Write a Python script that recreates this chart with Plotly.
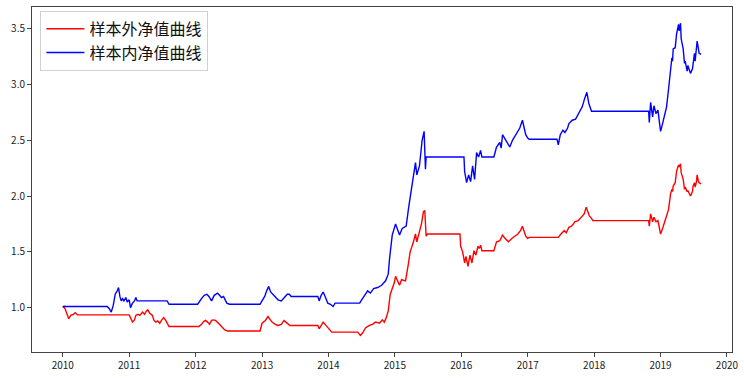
import pandas as pd
import plotly.graph_objects as go

# ---- data (decimal year, net value) ----
t_in = [2010.00, 2010.67, 2010.70, 2010.73, 2010.76, 2010.79, 2010.82, 2010.84, 2010.86, 2010.88,
        2010.90, 2010.92, 2010.95, 2010.97, 2011.00, 2011.02, 2011.05, 2011.08, 2011.10, 2011.12,
        2011.57, 2011.60, 2012.03, 2012.06, 2012.10, 2012.13, 2012.17, 2012.20, 2012.24, 2012.28,
        2012.33, 2012.36, 2012.39, 2012.42, 2012.44, 2012.47, 2012.51, 2012.97, 2013.00, 2013.04,
        2013.07, 2013.10, 2013.13, 2013.16, 2013.20, 2013.24, 2013.29, 2013.33, 2013.38, 2013.41,
        2013.44, 2013.84, 2013.86, 2013.89, 2013.92, 2013.95, 2013.99, 2014.03, 2014.07, 2014.10,
        2014.47, 2014.50, 2014.55, 2014.59, 2014.63, 2014.68, 2014.74, 2014.80, 2014.86, 2014.90,
        2014.92, 2014.96, 2015.01, 2015.04, 2015.07, 2015.11, 2015.17, 2015.21, 2015.26, 2015.31,
        2015.33, 2015.37, 2015.41, 2015.44, 2015.46, 2015.47, 2016.04, 2016.05, 2016.08, 2016.11,
        2016.14, 2016.17, 2016.20, 2016.23, 2016.26, 2016.29, 2016.31, 2016.49, 2016.53, 2016.58,
        2016.60, 2016.62, 2016.68, 2016.73, 2016.77, 2016.82, 2016.88, 2016.92, 2016.97, 2017.00,
        2017.02, 2017.44, 2017.46, 2017.49, 2017.53, 2017.56, 2017.60, 2017.62, 2017.67, 2017.72,
        2017.77, 2017.82, 2017.86, 2017.89, 2017.92, 2017.94, 2017.96, 2018.82, 2018.83, 2018.85,
        2018.88, 2018.90, 2018.93, 2018.96, 2018.98, 2019.00, 2019.03, 2019.06, 2019.09, 2019.12,
        2019.15, 2019.17, 2019.18, 2019.19, 2019.22, 2019.24, 2019.27, 2019.28, 2019.30, 2019.31,
        2019.34, 2019.36, 2019.37, 2019.40, 2019.41, 2019.45, 2019.48, 2019.49, 2019.51, 2019.52,
        2019.54, 2019.55, 2019.57, 2019.58, 2019.61]
nav_in = [1.01, 1.01, 0.99, 0.96, 1.02, 1.12, 1.15, 1.18, 1.10, 1.06,
          1.08, 1.06, 1.09, 1.05, 1.07, 1.00, 1.04, 1.06, 1.09, 1.06,
          1.06, 1.03, 1.03, 1.06, 1.09, 1.11, 1.12, 1.10, 1.06, 1.11,
          1.13, 1.11, 1.09, 1.10, 1.07, 1.04, 1.03, 1.03, 1.06, 1.10,
          1.15, 1.19, 1.14, 1.12, 1.09, 1.07, 1.06, 1.09, 1.12, 1.12,
          1.10, 1.10, 1.06, 1.11, 1.14, 1.10, 1.04, 1.03, 1.01, 1.04,
          1.04, 1.07, 1.12, 1.15, 1.13, 1.17, 1.18, 1.20, 1.24, 1.30,
          1.44, 1.65, 1.75, 1.70, 1.65, 1.71, 1.73, 1.91, 2.09, 2.30,
          2.19, 2.27, 2.50, 2.58, 2.24, 2.35, 2.35, 2.22, 2.12, 2.19,
          2.13, 2.27, 2.15, 2.39, 2.35, 2.41, 2.35, 2.35, 2.44, 2.48,
          2.43, 2.55, 2.49, 2.44, 2.50, 2.55, 2.61, 2.68, 2.55, 2.52,
          2.51, 2.51, 2.46, 2.55, 2.59, 2.57, 2.61, 2.65, 2.68, 2.69,
          2.74, 2.80, 2.88, 2.93, 2.83, 2.80, 2.76, 2.76, 2.66, 2.84,
          2.71, 2.81, 2.74, 2.77, 2.64, 2.58, 2.65, 2.74, 2.80, 2.96,
          3.17, 3.24, 3.21, 3.32, 3.33, 3.45, 3.54, 3.48, 3.55, 3.41,
          3.32, 3.19, 3.21, 3.12, 3.17, 3.10, 3.14, 3.21, 3.28, 3.21,
          3.30, 3.39, 3.32, 3.28, 3.27]

t_out = [2010.00, 2010.02, 2010.04, 2010.07, 2010.09, 2010.12, 2010.16, 2010.19, 2010.22, 2011.00,
         2011.05, 2011.08, 2011.10, 2011.13, 2011.16, 2011.20, 2011.23, 2011.26, 2011.28, 2011.31,
         2011.35, 2011.37, 2011.40, 2011.43, 2011.46, 2011.49, 2011.52, 2011.55, 2011.58, 2011.60,
         2012.05, 2012.09, 2012.12, 2012.15, 2012.18, 2012.21, 2012.24, 2012.27, 2012.30, 2012.33,
         2012.36, 2012.39, 2012.44, 2012.48, 2012.97, 2013.00, 2013.05, 2013.09, 2013.12, 2013.15,
         2013.20, 2013.24, 2013.29, 2013.33, 2013.36, 2013.42, 2013.84, 2013.86, 2013.92, 2013.96,
         2014.02, 2014.05, 2014.44, 2014.48, 2014.51, 2014.56, 2014.62, 2014.66, 2014.71, 2014.77,
         2014.81, 2014.84, 2014.87, 2014.90, 2014.93, 2014.99, 2015.01, 2015.04, 2015.07, 2015.10,
         2015.16, 2015.20, 2015.23, 2015.28, 2015.31, 2015.33, 2015.37, 2015.40, 2015.43, 2015.45,
         2015.47, 2015.49, 2015.98, 2015.99, 2016.02, 2016.05, 2016.07, 2016.10, 2016.13, 2016.16,
         2016.19, 2016.22, 2016.25, 2016.27, 2016.29, 2016.31, 2016.49, 2016.53, 2016.58, 2016.62,
         2016.66, 2016.71, 2016.76, 2016.80, 2016.85, 2016.89, 2016.92, 2016.97, 2017.00, 2017.02,
         2017.46, 2017.50, 2017.55, 2017.58, 2017.62, 2017.66, 2017.71, 2017.76, 2017.80, 2017.85,
         2017.88, 2017.91, 2017.93, 2017.96, 2017.98, 2018.82, 2018.83, 2018.85, 2018.88, 2018.90,
         2018.93, 2018.96, 2018.98, 2019.00, 2019.03, 2019.06, 2019.09, 2019.12, 2019.15, 2019.17,
         2019.18, 2019.19, 2019.22, 2019.24, 2019.27, 2019.28, 2019.30, 2019.31, 2019.34, 2019.36,
         2019.37, 2019.40, 2019.41, 2019.45, 2019.48, 2019.49, 2019.51, 2019.52, 2019.54, 2019.55,
         2019.57, 2019.58, 2019.61]
nav_out = [1.00, 1.01, 0.98, 0.94, 0.90, 0.93, 0.94, 0.955, 0.935, 0.935,
           0.87, 0.89, 0.93, 0.94, 0.93, 0.96, 0.94, 0.97, 0.98, 0.95,
           0.93, 0.89, 0.87, 0.88, 0.86, 0.89, 0.91, 0.885, 0.85, 0.83,
           0.83, 0.85, 0.875, 0.885, 0.87, 0.85, 0.885, 0.89, 0.885, 0.87,
           0.85, 0.83, 0.80, 0.79, 0.79, 0.86, 0.885, 0.92, 0.89, 0.87,
           0.85, 0.84, 0.85, 0.885, 0.87, 0.84, 0.84, 0.81, 0.87, 0.84,
           0.80, 0.78, 0.78, 0.75, 0.77, 0.82, 0.84, 0.85, 0.87, 0.86,
           0.89, 0.87, 0.91, 0.97, 1.12, 1.22, 1.28, 1.24, 1.20, 1.25,
           1.24, 1.38, 1.50, 1.59, 1.66, 1.59, 1.68, 1.75, 1.86, 1.87,
           1.64, 1.66, 1.66, 1.55, 1.50, 1.40, 1.46, 1.37, 1.47, 1.40,
           1.51, 1.47, 1.55, 1.53, 1.56, 1.51, 1.51, 1.59, 1.60, 1.65,
           1.62, 1.59, 1.62, 1.64, 1.66, 1.69, 1.73, 1.64, 1.62, 1.63,
           1.63, 1.66, 1.69, 1.67, 1.72, 1.73, 1.77, 1.78, 1.81, 1.84,
           1.90, 1.84, 1.82, 1.80, 1.78, 1.78, 1.73, 1.84, 1.77, 1.81,
           1.77, 1.78, 1.71, 1.66, 1.71, 1.77, 1.81, 1.88, 2.02, 2.06,
           2.04, 2.09, 2.12, 2.22, 2.28, 2.26, 2.29, 2.21, 2.15, 2.06,
           2.08, 2.04, 2.05, 2.00, 2.04, 2.09, 2.12, 2.08, 2.13, 2.19,
           2.13, 2.12, 2.11]

series_names = ["样本外净值曲线", "样本内净值曲线"]
year_ticks = list(range(2010, 2021))
y_ticks = [1.0, 1.5, 2.0, 2.5, 3.0, 3.5]


def to_dates(years):
    base = pd.Timestamp("2010-01-01")
    return [base + pd.Timedelta(days=(y - 2010) * 365.25) for y in years]


fig = go.Figure()
fig.add_trace(go.Scatter(x=to_dates(t_out), y=nav_out, mode="lines", name=series_names[0],
                         line=dict(color="#ff0000", width=1.4)))
fig.add_trace(go.Scatter(x=to_dates(t_in), y=nav_in, mode="lines", name=series_names[1],
                         line=dict(color="#0000ff", width=1.4)))

tickvals = [pd.Timestamp(f"{y}-01-01") for y in year_ticks]
x0 = pd.Timestamp("2010-01-01") + pd.Timedelta(days=-0.463 * 365.25)
x1 = pd.Timestamp("2010-01-01") + pd.Timedelta(days=10.075 * 365.25)

fig.update_layout(
    width=744, height=378,
    margin=dict(l=32, r=7, t=6, b=23),
    paper_bgcolor="white", plot_bgcolor="white",
    font=dict(family="Noto Sans CJK SC", color="#222222", size=10),
    showlegend=True,
    legend=dict(x=0.012, y=0.989, xanchor="left", yanchor="top",
                bgcolor="rgba(255,255,255,0.8)", bordercolor="#d0d0d0", borderwidth=1,
                font=dict(size=16, family="Noto Sans CJK SC", color="#111111"),
                itemwidth=38, tracegroupgap=0),
    xaxis=dict(type="date", range=[x0, x1], tickvals=tickvals,
               ticktext=[str(y) for y in year_ticks],
               showgrid=False, zeroline=False, showline=True, mirror=True,
               linecolor="#444444", linewidth=1, ticks="outside", ticklen=4,
               tickcolor="#444444", tickfont=dict(size=10)),
    yaxis=dict(range=[0.602, 3.695], tickvals=y_ticks,
               ticktext=[f"{v:.1f}" for v in y_ticks],
               showgrid=False, zeroline=False, showline=True, mirror=True,
               linecolor="#444444", linewidth=1, ticks="outside", ticklen=4,
               tickcolor="#444444", tickfont=dict(size=10)),
)

fig.write_html("out.html")
